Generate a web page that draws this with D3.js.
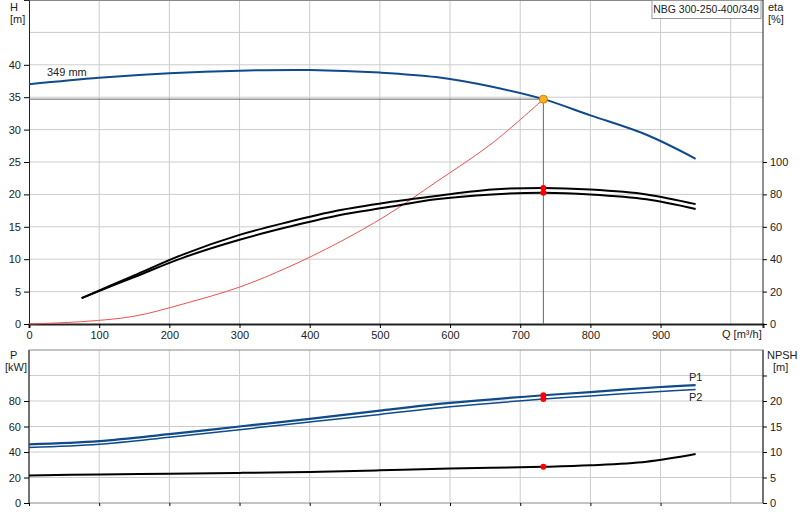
<!DOCTYPE html>
<html><head><meta charset="utf-8">
<script src="https://cdn.jsdelivr.net/npm/d3@7"></script>
<style>body{margin:0;background:#fff}text{font-family:Arial,"Liberation Sans",sans-serif;font-size:11px;fill:#222}</style>
</head><body><svg id="c" width="800" height="520"></svg>
<script>
const qH=[0,100,200,300,400,500,580,660,733,800,880,950];
const hVals=[37,38,38.7,39.1,39.2,38.8,38.1,36.6,34.7,32.2,29.2,25.5];
const qEta=[75,150,220,300,370,440,510,580,660,733,800,880,950];
const eta1=[16,30,43,55,63,70,75,79,83,84,83,80,74];
const eta2=[16,29,41,52,60,67,72,77,80,81,80,77,71];
const qSys=[0,80,150,220,300,370,440,510,580,660,733];
const hSys=[0,0.4,1.2,3.1,5.7,8.8,12.5,16.8,21.9,27.9,34.7];
const qP=[0,100,200,300,400,500,600,733,800,900,950];
const p1=[46,48.5,54,60,66,72.5,78.5,84.5,87,91,92.5];
const p2=[43.5,46,51.5,57.5,63.5,69.5,75.5,81.5,84,87.5,89];
const qN=[0,100,200,300,400,500,600,733,800,880,950];
const npsh=[5.4,5.6,5.75,5.9,6.1,6.4,6.75,7.1,7.4,8.1,9.6];
const opQ=733, opH=34.7;
const qTicks=[0,100,200,300,400,500,600,700,800,900];
const hTicks=[0,5,10,15,20,25,30,35,40];
const etaTicks=[0,20,40,60,80,100];
const pTicks=[0,20,40,60,80];
const nTicks=[0,5,10,15,20];

const svg=d3.select("#c");
const L=29,R=763;
const x=d3.scaleLinear().domain([0,1046]).range([L,R]);
const yH=d3.scaleLinear().domain([0,50]).range([324,0]);
const yE=d3.scaleLinear().domain([0,200]).range([324,0]);
const yP=d3.scaleLinear().domain([0,120]).range([503,350]);
const yN=d3.scaleLinear().domain([0,30]).range([503,350]);
const blue="#0f4a8a";
function grid(y0,y1,yScale,vals){
  const g=svg.append("g");
  d3.range(100,1001,100).forEach(v=>g.append("line").attr("x1",x(v)).attr("x2",x(v)).attr("y1",y0).attr("y2",y1).attr("stroke","#ccc"));
  vals.forEach(v=>g.append("line").attr("x1",L).attr("x2",R).attr("y1",yScale(v)).attr("y2",yScale(v)).attr("stroke","#ccc"));
}
grid(0,324,yH,[5,10,15,20,25,30,35,40,45]);
grid(350,503,yP,[20,40,60,80,100]);
svg.append("rect").attr("x",L).attr("y",350).attr("width",R-L).attr("height",153).attr("fill","none").attr("stroke","#888");
svg.append("line").attr("x1",L).attr("x2",R).attr("y1",0.5).attr("y2",0.5).attr("stroke","#888");
svg.append("g").attr("transform","translate(0,324)").call(d3.axisBottom(x).tickValues(qTicks).tickSize(4)).call(g=>g.select(".domain").attr("stroke","#777").attr("stroke-width",2));
svg.append("g").attr("transform",`translate(${L},0)`).call(d3.axisLeft(yH).tickValues(hTicks).tickSize(5));
svg.append("g").attr("transform",`translate(${R},0)`).call(d3.axisRight(yE).tickValues(etaTicks).tickSize(4)).call(g=>g.select(".domain").attr("d","M0,0V324"));
svg.append("g").attr("transform",`translate(${L},0)`).call(d3.axisLeft(yP).tickValues(pTicks).tickSize(5)).call(g=>g.select(".domain").attr("d","M0,350V503"));
svg.append("g").attr("transform",`translate(${R},0)`).call(d3.axisRight(yN).tickValues(nTicks.concat([25])).tickSize(4).tickFormat(d=>d==25?"":d)).call(g=>g.select(".domain").attr("d","M0,350V503"));
svg.append("g").attr("transform","translate(0,503)").call(d3.axisBottom(x).tickValues(qTicks).tickSize(3).tickFormat("")).call(g=>g.select(".domain").remove());
svg.selectAll(".tick text").style("font-size","11px").attr("fill","#222");
svg.selectAll(".domain").attr("stroke","#222");
svg.append("line").attr("x1",L).attr("x2",x(opQ)).attr("y1",yH(opH)).attr("y2",yH(opH)).attr("stroke","#666");
svg.append("line").attr("x1",x(opQ)).attr("x2",x(opQ)).attr("y1",yH(opH)).attr("y2",324).attr("stroke","#666");
const ln=(xs,ys,xsc,ysc)=>d3.line().curve(d3.curveCatmullRom).x((d,i)=>xsc(xs[i])).y(d=>ysc(d))(ys);
svg.append("path").attr("d",ln(qSys,hSys,x,yH)).attr("fill","none").attr("stroke","#f05050").attr("stroke-width",1);
svg.append("path").attr("d",ln(qH,hVals,x,yH)).attr("fill","none").attr("stroke",blue).attr("stroke-width",2);
svg.append("path").attr("d",ln(qEta,eta1,x,yE)).attr("fill","none").attr("stroke","#000").attr("stroke-width",2);
svg.append("path").attr("d",ln(qEta,eta2,x,yE)).attr("fill","none").attr("stroke","#000").attr("stroke-width",2);
svg.append("path").attr("d",ln(qP,p1,x,yP)).attr("fill","none").attr("stroke",blue).attr("stroke-width",2.2);
svg.append("path").attr("d",ln(qP,p2,x,yP)).attr("fill","none").attr("stroke",blue).attr("stroke-width",1.5);
svg.append("path").attr("d",ln(qN,npsh,x,yN)).attr("fill","none").attr("stroke","#000").attr("stroke-width",2);
const dot=(q,yv,r,c)=>svg.append("circle").attr("cx",x(q)).attr("cy",yv).attr("r",r).attr("fill",c);
dot(opQ,yH(opH),4,"#ffb020").attr("stroke","#d08000");
dot(opQ,yE(eta1[9]),3,"red");dot(opQ,yE(eta2[9]),3,"red");
dot(opQ,yP(p1[7]),3,"red");dot(opQ,yP(p2[7]),3,"red");
dot(opQ,yN(npsh[7]),3,"red");
const t=(s,xx,yy,a)=>svg.append("text").attr("x",xx).attr("y",yy).attr("text-anchor",a||"start").text(s);
t("H",10,11);t("[m]",10,23);t("eta",768,11);t("[%]",768,23);
t("P",10,359);t("[kW]",5,371);t("NPSH",767,359);t("[m]",773,371);
t("349 mm",47,76);t("Q [m³/h]",722,338);
t("P1",689,381).attr("fill",blue);t("P2",689,401).attr("fill",blue);
svg.append("rect").attr("x",652).attr("y",0.5).attr("width",109).attr("height",18).attr("fill","#fff").attr("stroke","#999");
t("NBG 300-250-400/349",706,13,"middle").style("font-size","10.5px");
</script></body></html>
